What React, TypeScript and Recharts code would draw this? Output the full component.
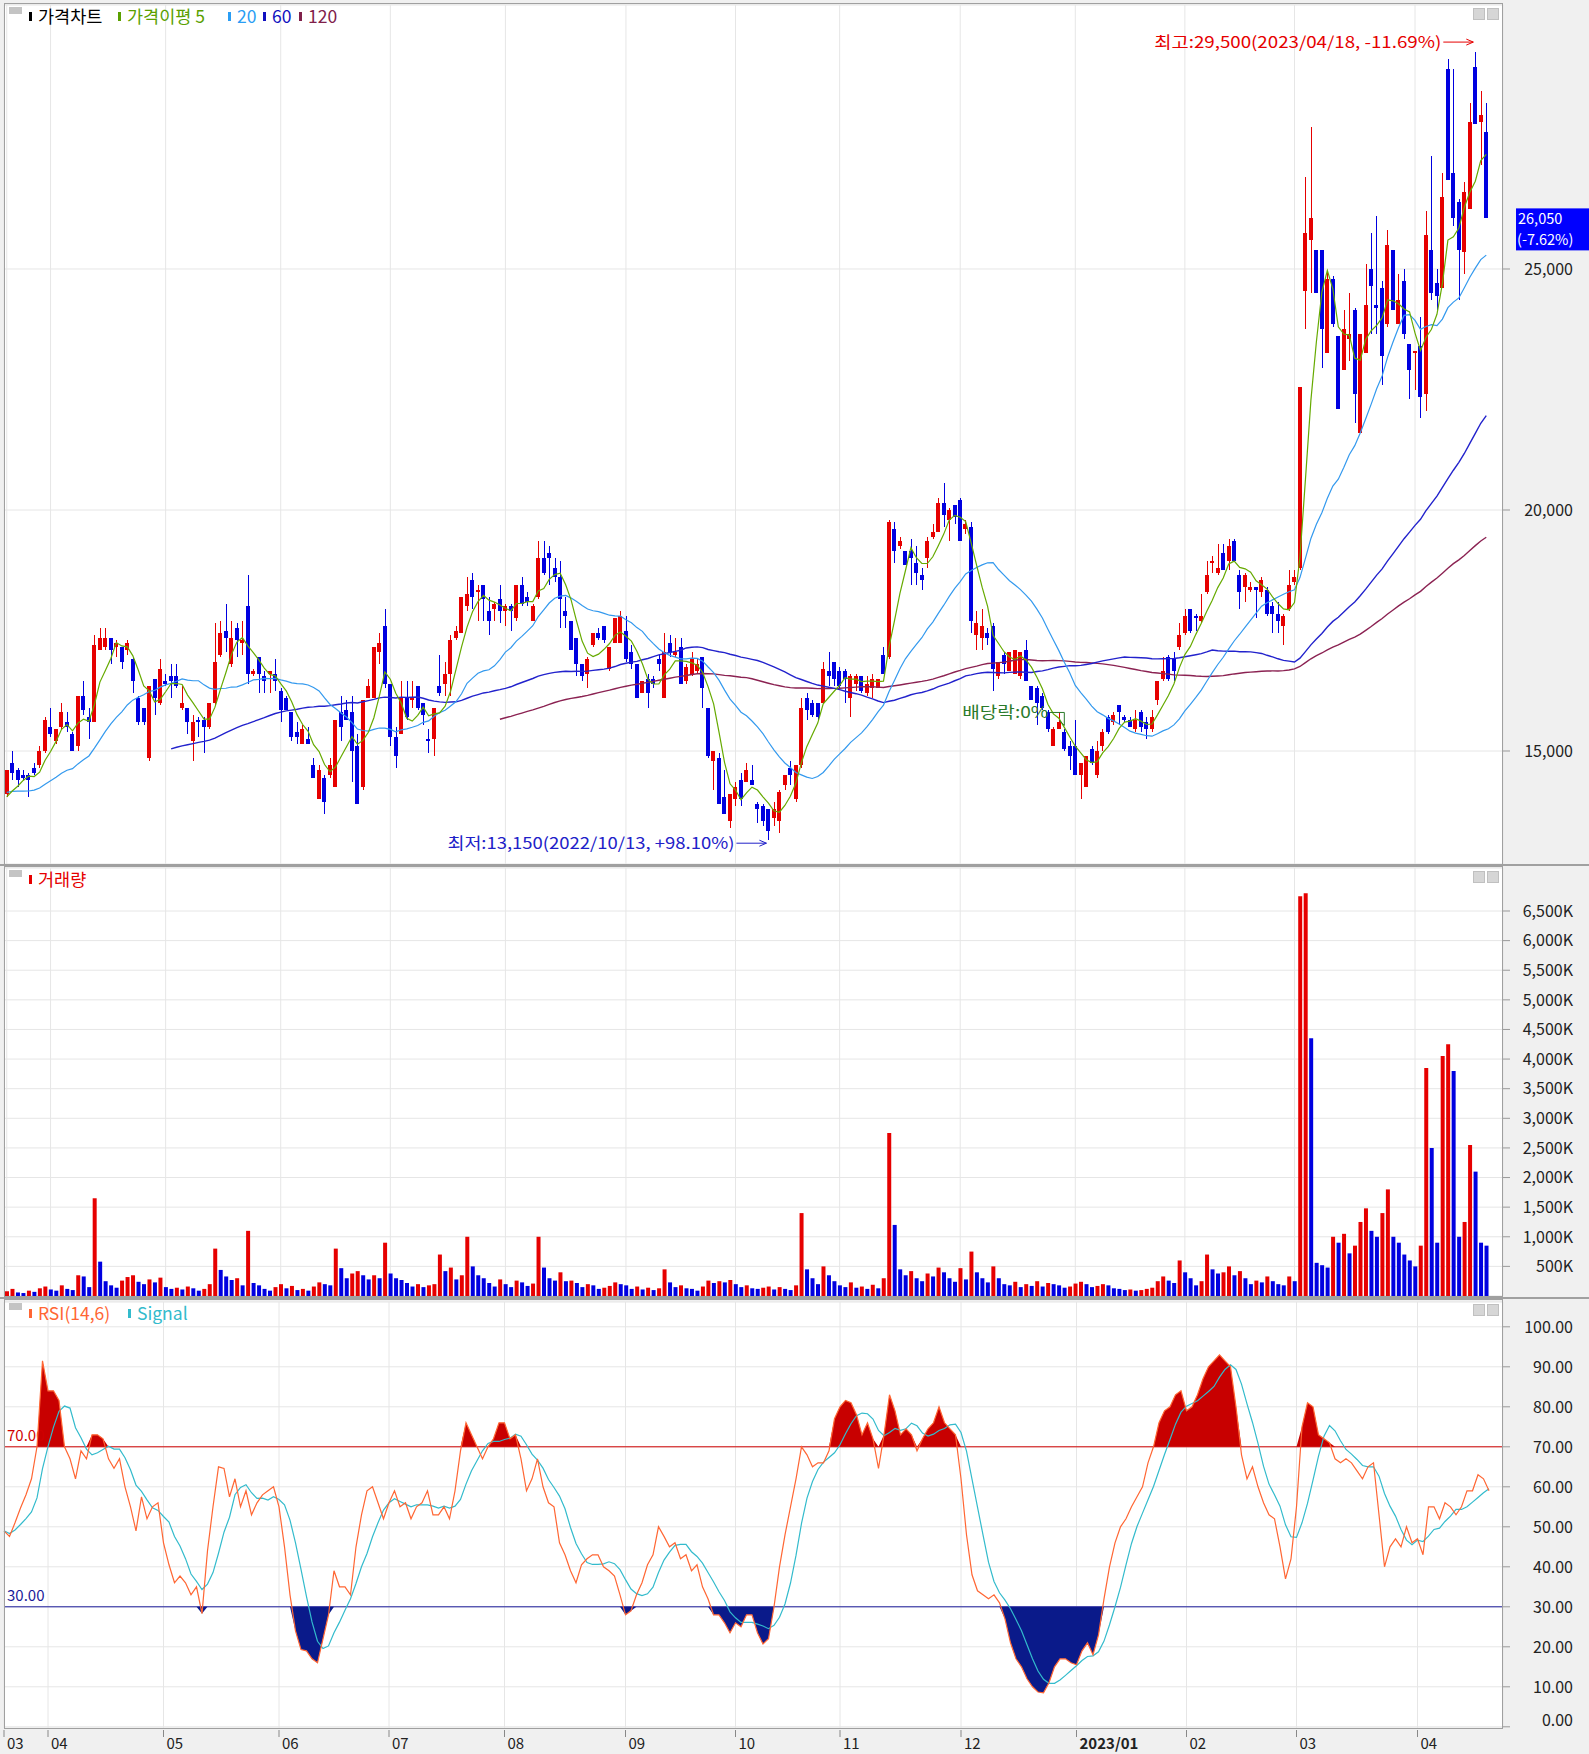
import React from "react";
import {
  ComposedChart, Bar, Line, Area, XAxis, YAxis, CartesianGrid,
  ReferenceLine, ReferenceDot, Cell,
} from "recharts";

const FONT = '"Noto Sans CJK KR", "Noto Sans", sans-serif';
const UP = "#e60000";
const DOWN = "#0000e0";
const GRID = "#e6e6e6";

// month start indices (trading days) and labels
const monthStarts = [0, 8, 29, 50, 70, 91, 113, 133, 152, 174, 195, 215, 235, 257];
const monthLabels = ["03", "04", "05", "06", "07", "08", "09", "10", "11", "12", "2023/01", "02", "03", "04"];

// closes before the visible window (needed for the moving averages)
const priorCloses = [
  14350, 14200, 14300, 14150, 14050, 14250, 14400, 14300, 14100, 14000,
  14150, 14300, 14450, 14350, 14200, 14100, 14050, 13950, 14000, 14150,
  14250, 14300, 14200, 14100, 14050, 13950, 13900, 13850, 13950,
];

const opens = [
  14100, 14750, 14600, 14500, 14500, 14650, 14700, 15000, 15500, 15200,
  15500, 15600, 15350, 15100, 16150, 15700, 15600, 17100, 17150, 17350,
  17150, 17150, 17100, 16900, 16100, 15900, 14850, 16500, 16000, 16450,
  16550, 16550, 15900, 15900, 15200, 15650, 15650, 15500, 16000, 17000,
  17500, 16800, 17550, 17250, 18000, 16600, 16950, 16550, 16600, 16600,
  16250, 16100, 15800, 15400, 15150, 15250, 14700, 14000, 14450, 14500,
  14250, 15800, 15850, 15800, 15100, 14250, 16100, 16100, 17050, 17600,
  16400, 15300, 15350, 16100, 16050, 16350, 16000, 15250, 15250, 16350,
  16400, 16600, 17350, 17450, 18000, 18550, 18300, 18450, 17900, 17950,
  18150, 17900, 18000, 17750, 18450, 18200, 17700, 18200, 19000, 19100,
  18800, 18600, 17900, 17700, 17350, 16800, 16600, 17200, 17450, 17600,
  16700, 17250, 17250, 17500, 17050, 16800, 16200, 16500, 16500, 16900,
  16100, 17250, 17000, 17150, 16450, 16600, 16650, 16950, 15900, 14800,
  14850, 14050, 13550, 14000, 14400, 14350, 14400, 13900, 13850, 13800,
  13600, 13550, 14300, 14650, 14000, 14700, 16100, 16000, 16000, 16000,
  16650, 16850, 16650, 16650, 16100, 16400, 16550, 16200, 16300, 16300,
  17000, 16950, 19600, 19250, 19150, 19150, 18900, 18650, 19000, 19450,
  19550, 20150, 19800, 20100, 20200, 19600, 19650, 17400, 17350, 17450,
  17600, 16550, 17000, 16650, 16600, 16550, 17100, 16350, 16300, 16150,
  15800, 15100, 15450, 15400, 15100, 15100, 14500, 14250, 15050, 14500,
  15100, 15700, 15600, 15950, 15700, 15650, 15450, 15800, 15600, 15450,
  16050, 16500, 16950, 16900, 17150, 17450, 17950, 17800, 17700, 18300,
  18900, 18700, 19100, 18950, 19350, 18650, 18400, 18350, 18400, 18300,
  18350, 18000, 17850, 17600, 17950, 18500, 18800, 24550, 25600, 25400,
  25400, 23250, 24800, 23600, 22900, 23550, 24150, 21600, 23250, 25000,
  24250, 24600, 23850, 25400, 23850, 24750, 23450, 23250, 23400, 22400,
  25400, 24700, 24600, 29150, 27000, 26400, 25350, 26250, 29200, 28050,
  27850,
];

const highs = [
  14600, 15000, 14650, 14600, 14550, 14750, 15100, 15700, 15900, 15450,
  16000, 15800, 15400, 16150, 16450, 15900, 17400, 17550, 17550, 17350,
  17300, 17150, 17300, 16950, 16150, 15900, 16350, 16500, 16900, 16600,
  16800, 16800, 16350, 15900, 15750, 15700, 15700, 16000, 17650, 17700,
  18050, 17700, 17650, 17700, 18650, 16700, 16950, 16650, 16650, 16900,
  16300, 16150, 15800, 15600, 15550, 15500, 14850, 14700, 14500, 14850,
  15650, 16150, 16050, 16150, 15350, 16050, 16500, 17150, 17450, 17950,
  16400, 15500, 16450, 16450, 16450, 16350, 16000, 15450, 15900, 17000,
  16850, 17400, 17600, 18200, 18600, 18700, 18450, 18450, 18200, 18100,
  18450, 18050, 18050, 18450, 18600, 18300, 18050, 19350, 19350, 19250,
  19000, 18950, 18200, 17700, 17350, 16800, 16950, 17450, 17550, 17600,
  17150, 17750, 17900, 17800, 17200, 16800, 16450, 16600, 16550, 17000,
  17450, 17400, 17350, 17350, 16800, 17050, 16900, 16950, 15900, 15000,
  14950, 14600, 14100, 14350, 14550, 14750, 14700, 13950, 13900, 13800,
  13950, 14200, 14500, 14800, 14700, 16100, 16200, 16050, 16000, 16850,
  17050, 16850, 16750, 16700, 16600, 16600, 16550, 16550, 16600, 16500,
  17150, 19800, 19750, 19450, 19150, 19400, 19250, 18800, 19450, 19700,
  20250, 20550, 20050, 20100, 20250, 19800, 19750, 17900, 17950, 17550,
  17650, 16850, 17050, 17050, 17100, 17050, 17300, 16350, 16350, 16200,
  15850, 15500, 15800, 15450, 15200, 15650, 14750, 14900, 15100, 15200,
  15450, 15750, 15800, 15950, 15750, 15700, 15850, 15850, 15700, 15850,
  16450, 16950, 17000, 17050, 17650, 17950, 17950, 17850, 18250, 18950,
  19050, 19300, 19300, 19400, 19400, 18750, 18700, 18500, 18400, 18600,
  18400, 18100, 18100, 17850, 18750, 18750, 22550, 26900, 27950, 25400,
  25400, 24950, 24850, 23600, 24150, 24500, 24200, 23650, 25100, 25750,
  26100, 24750, 25800, 25400, 24900, 25000, 23450, 23300, 24000, 26200,
  27350, 25000, 27000, 29350, 29150, 26450, 26800, 28450, 29500, 28700,
  28450,
];

const lows = [
  14050, 14400, 14250, 14400, 14050, 14500, 14650, 14950, 15300, 15150,
  15450, 15400, 15000, 15000, 15750, 15250, 15600, 17100, 17100, 16800,
  16950, 16700, 17000, 16200, 15550, 15550, 14800, 15750, 15950, 16350,
  16100, 16300, 15850, 15350, 14800, 15300, 14950, 15450, 15950, 16950,
  17050, 16750, 16950, 17000, 16400, 16550, 16200, 16200, 16200, 16250,
  15600, 15850, 15200, 15150, 15150, 15150, 14450, 14000, 13700, 14450,
  14250, 15200, 15650, 14350, 13900, 14200, 16100, 16100, 16800, 16300,
  15100, 14650, 15350, 15650, 15900, 15850, 15550, 14950, 14900, 16150,
  16150, 16150, 17300, 17450, 17900, 17950, 17700, 17700, 17400, 17700,
  17650, 17600, 17500, 17700, 18000, 18000, 17700, 18150, 18650, 18450,
  18500, 17550, 17550, 17100, 16550, 16450, 16300, 17150, 17300, 17250,
  16650, 17250, 17250, 16850, 16700, 16100, 16200, 15900, 16300, 16650,
  16100, 16950, 16950, 16400, 16400, 16550, 16600, 15900, 14850, 14200,
  13900, 13700, 13400, 13850, 13850, 14350, 14300, 13500, 13450, 13150,
  13450, 13300, 14200, 14300, 13950, 14650, 15650, 15700, 15650, 16000,
  16350, 16350, 16300, 16000, 15700, 16250, 16200, 16150, 16100, 16300,
  16600, 16900, 18900, 19200, 18850, 18450, 18450, 18350, 18800, 19400,
  19550, 19650, 19350, 19700, 19350, 19500, 17450, 17100, 17100, 17200,
  16250, 16500, 16600, 16650, 16600, 16500, 16450, 16050, 15550, 15850,
  15400, 15100, 15450, 15000, 14600, 14500, 14000, 14250, 14700, 14450,
  15000, 15350, 15550, 15550, 15600, 15500, 15400, 15400, 15250, 15400,
  15950, 16450, 16450, 16450, 17100, 17400, 17450, 17500, 17650, 18250,
  18700, 18650, 18750, 18750, 18950, 17950, 18100, 18300, 17750, 18200,
  17800, 17450, 17450, 17200, 17900, 18450, 18750, 23750, 24500, 24500,
  22950, 23250, 23800, 22100, 22900, 23100, 21800, 21600, 23250, 23650,
  23650, 22600, 23800, 24150, 23850, 23550, 22300, 22500, 21900, 22050,
  24350, 24150, 24600, 26850, 25900, 24350, 24900, 26250, 28000, 27150,
  26050,
];

const closes = [
  14600, 14550, 14400, 14450, 14400, 14550, 15000, 15650, 15350, 15450,
  15800, 15500, 15000, 16150, 15850, 15600, 17200, 17350, 17350, 17100,
  17250, 16850, 17250, 16450, 15600, 15600, 16350, 16100, 16700, 16400,
  16450, 16350, 16000, 15600, 15600, 15600, 15500, 16000, 16850, 17450,
  17350, 17350, 17300, 17300, 16600, 16650, 16600, 16450, 16650, 16450,
  15850, 15850, 15300, 15300, 15450, 15150, 14450, 14600, 13950, 14700,
  15650, 15500, 15650, 15000, 13900, 16050, 16350, 17150, 17250, 16400,
  15300, 14900, 16100, 15700, 16100, 15900, 15750, 15200, 15900, 16200,
  16600, 17300, 17500, 18200, 18250, 18200, 18350, 18150, 17700, 18050,
  17900, 18000, 17900, 18450, 18050, 18100, 18000, 19000, 18700, 19000,
  18600, 18150, 17800, 17100, 16800, 16550, 16900, 17450, 17350, 17300,
  17150, 17750, 17800, 16900, 16800, 16100, 16450, 16200, 16400, 16800,
  17050, 17050, 17050, 16400, 16750, 16900, 16800, 16300, 14900, 15000,
  13900, 13700, 14100, 14250, 14000, 14600, 14300, 13800, 13550, 13350,
  13800, 14150, 14500, 14500, 14700, 15900, 15850, 15750, 15700, 16700,
  16550, 16500, 16350, 16500, 16550, 16550, 16250, 16400, 16500, 16500,
  16600, 19750, 19150, 19350, 18850, 19000, 18700, 18550, 19350, 19550,
  20150, 19900, 20000, 19850, 19350, 19700, 17700, 17650, 17600, 17350,
  16700, 16850, 16800, 17050, 17100, 17050, 16450, 16050, 16000, 15900,
  15450, 15450, 15600, 15050, 14900, 14500, 14750, 14900, 14750, 15000,
  15400, 15400, 15750, 15800, 15650, 15500, 15650, 15500, 15450, 15700,
  16450, 16650, 16500, 16650, 17400, 17800, 17500, 17750, 17800, 18650,
  18950, 18800, 18750, 19250, 18950, 18300, 18650, 18400, 18350, 18550,
  17850, 17850, 17700, 17800, 18450, 18600, 22550, 25750, 26050, 24500,
  23750, 24800, 23850, 22100, 23750, 23650, 22400, 23650, 24250, 24650,
  24200, 23200, 25500, 24150, 24350, 23650, 22900, 23300, 22350, 25700,
  24500, 24450, 26500, 26850, 26050, 25400, 26600, 28050, 28000, 28200,
  26050,
];

// volume in thousands of shares
const volumes = [
  80, 120, 60, 50, 90, 70, 130, 160, 110, 90,
  180, 120, 100, 350, 330, 150, 1650, 580, 250, 180,
  140, 260, 320, 350, 240, 200, 280, 230, 310, 150,
  120, 140, 110, 160, 130, 90, 120, 200, 800, 440,
  330, 270, 300, 180, 1100, 220, 180, 120, 90, 150,
  200, 130, 170, 100, 120, 90, 160, 230, 200, 180,
  800, 470, 300, 380, 420, 350, 280, 350, 300, 900,
  380, 300, 270, 220, 160, 200, 150, 180, 200, 700,
  420, 480, 280, 350, 1000, 500, 350, 300, 220, 160,
  280, 200, 150, 260, 230, 170, 210, 1000, 480, 300,
  260, 400, 250, 260, 220, 150, 200, 180, 120, 140,
  170, 230, 200, 180, 120, 160, 110, 140, 100, 130,
  450, 230, 150, 180, 130, 120, 90, 160, 260, 220,
  250, 230, 270, 200, 150, 180, 130, 120, 140, 160,
  110, 150, 120, 100, 180, 1400, 450, 300, 200, 500,
  350, 250, 180, 150, 230, 140, 160, 120, 190, 130,
  300, 2750, 1200, 450, 350, 420, 300, 250, 380, 330,
  480, 400, 300, 240, 470, 280, 750, 400, 300, 230,
  500, 300, 200, 180, 240, 150, 200, 170, 250, 160,
  220, 200, 180, 140, 160, 210, 240, 200, 150, 170,
  200, 180, 130, 120, 100, 110, 90, 100, 120, 140,
  250, 330, 260, 220, 600, 400, 300, 180, 250, 700,
  450, 380, 400, 500, 350, 420, 300, 200, 260, 230,
  330, 250, 200, 180, 330, 250, 6750, 6800, 4350, 560,
  520, 480, 1000, 900, 1050, 720, 850, 1250, 1480, 1100,
  1000, 1400, 1800, 1000, 900, 700, 600, 500, 850, 3850,
  2500, 900, 4050, 4250, 3800, 1000, 1250, 2550, 2100, 900,
  850,
];

// RSI(14)
const rsiValues = [
  49, 47.6, 51, 54.7, 58, 62, 70, 91.5, 84, 84,
  81.6, 70, 67, 62, 69, 67, 73, 73, 72, 67,
  64.6, 67, 60, 55, 49, 57.5, 52, 55, 56, 46,
  40.5, 36, 37.7, 36, 33, 35, 28.3, 44, 55, 65,
  64.6, 57.5, 62, 55, 59, 53, 56, 58, 59, 60,
  55, 45, 33, 24, 19.3, 19, 17, 16, 22, 28,
  39, 35, 35, 33, 45, 53, 59, 60, 56, 52,
  56, 59, 55, 56, 52, 55, 56, 59, 53, 53,
  55, 52, 59, 69, 76, 73, 70, 67, 70, 72,
  76, 76, 72, 73, 67, 59, 62, 67, 60, 56,
  55, 46, 43, 39, 36, 40.5, 42, 43, 43, 40,
  39, 37.7, 33, 28, 29, 33, 36, 40.5, 43, 50,
  47.6, 45, 46, 42, 43, 39, 40.5, 35, 32, 28,
  28, 26, 23.5, 26, 25, 28, 28, 23.5, 20.7, 22,
  30, 40, 48, 55, 62, 70, 68, 65, 66, 66,
  69, 77, 80, 81.6, 81, 78, 73, 76, 72, 64.6,
  73, 83, 79, 73, 74.5, 73, 69, 72, 74.5, 76,
  80, 76, 74.5, 73, 62, 48, 38, 34, 33, 32,
  33, 31, 27, 21, 17, 15, 12, 10, 8.7, 8.5,
  11, 15, 17, 17, 16, 15.5, 19, 21, 18, 23,
  32, 40, 46, 50, 52, 55, 57.5, 60, 66, 70,
  76, 79, 80, 83, 84, 79, 80, 83, 87, 90,
  91.5, 93, 91.5, 90, 80, 68, 62, 65, 60, 56,
  53, 52, 45, 37, 42, 55, 75, 81, 80, 73,
  72, 71, 67, 66, 67, 66, 64, 62, 65, 66,
  53, 40, 45, 47, 45, 50, 46, 47, 43, 55,
  55, 52, 56, 55, 53, 55, 59, 59, 63, 62,
  59,
];

const allCloses = [...priorCloses, ...closes];
function movingAverage(n: number, i: number) {
  const j = i + priorCloses.length;
  if (j < n - 1) return null;
  let s = 0;
  for (let k = j - n + 1; k <= j; k++) s += allCloses[k];
  return s / n;
}
function signalAt(i: number) {
  const from = Math.max(0, i - 5);
  let s = 0;
  for (let k = from; k <= i; k++) s += rsiValues[k];
  return s / (i - from + 1);
}

const rows = closes.map((close, i) => ({
  i,
  open: opens[i],
  high: highs[i],
  low: lows[i],
  close,
  vol: volumes[i],
  volUp: i === 0 || volumes[i] >= volumes[i - 1],
  ma5: movingAverage(5, i),
  ma20: movingAverage(20, i),
  ma60: movingAverage(60, i),
  ma120: movingAverage(120, i),
  rsi: rsiValues[i],
  signal: signalAt(i),
}));

const last = rows.length - 1;
const lastClose = closes[last];
const prevClose = closes[last - 1];
const maxIdx = highs.indexOf(Math.max(...highs));
const minIdx = lows.indexOf(Math.min(...lows));
const pct = (v: number) => (v >= 0 ? "+" : "") + v.toFixed(2) + "%";
const fmt = (v: number) => v.toLocaleString("en-US");
const dateOf: Record<number, string> = { [maxIdx]: "2023/04/18", [minIdx]: "2022/10/13" };

const X_PAD = { left: 0, right: 14 };
const MARGIN_LEFT = 4;

function Candle(props: any) {
  const { x, y, width, height, payload } = props;
  const top = Math.min(y, y + height);
  const bottom = Math.max(y, y + height);
  const range = payload.high - payload.low;
  const k = range > 0 ? (bottom - top) / range : 0;
  const up = payload.close >= payload.open;
  const color = up ? UP : DOWN;
  const bTop = top + (payload.high - Math.max(payload.open, payload.close)) * k;
  const bBot = top + (payload.high - Math.min(payload.open, payload.close)) * k;
  const c = Math.round(x + width / 2);
  return (
    <g shapeRendering="crispEdges">
      <rect x={c - 0.5} y={top} width={1} height={Math.max(1, bottom - top)} fill={color} />
      <rect x={c - 2} y={bTop} width={4} height={Math.max(1, bBot - bTop)} fill={color} />
    </g>
  );
}

function AxisLabel({ x, y, payload, kind }: any) {
  const v = payload.value;
  let text = "";
  let dy = 0;
  if (kind === "price") text = fmt(v);
  if (kind === "vol") { text = fmt(v) + "K"; if (v === 0) dy = -8; }
  if (kind === "rsi") { text = v.toFixed(2); if (v === 0) dy = -7; }
  return (
    <text x={x + 61} y={y + dy} dy="0.36em" textAnchor="end" fontSize={16}
      fontFamily={FONT} fill="#222">{text}</text>
  );
}

function MonthTick({ x, y, payload }: any) {
  const k = monthStarts.indexOf(payload.value);
  if (k < 0) return <g />;
  const axisY = y - 8;
  const label = monthLabels[k];
  return (
    <g>
      <line x1={x} x2={x} y1={axisY + 2} y2={axisY + 9} stroke="#888" />
      <text x={x + 3} y={axisY + 21} fontSize={15} fontFamily={FONT}
        fontWeight={label.length > 2 ? 700 : 400} fill="#222">{label}</text>
    </g>
  );
}

function Annotation({ cx, cy, text, color, dy, length }: any) {
  const ty = cy + dy;
  const end = cx - 2;
  const start = cx - 32;
  return (
    <g>
      <text x={start - 2} y={ty} dy="0.36em" textAnchor="end" fill={color} fontSize={16}
        fontFamily={FONT} textLength={length} lengthAdjust="spacingAndGlyphs">{text}</text>
      <line x1={start} y1={ty} x2={end} y2={ty} stroke={color} />
      <polyline points={`${end - 7},${ty - 3} ${end},${ty} ${end - 7},${ty + 3}`} fill="none" stroke={color} />
    </g>
  );
}

function DividendMark({ cx, cy }: any) {
  const color = "#2a7a2a";
  return (
    <g>
      <text x={cx - 16} y={cy} dy="0.36em" textAnchor="end" fill={color} fontSize={16}
        fontFamily={FONT} textLength={86} lengthAdjust="spacingAndGlyphs">배당락:0%</text>
      <polyline points={`${cx - 15},${cy} ${cx},${cy} ${cx},${cy + 13}`} fill="none" stroke={color} />
      <polyline points={`${cx - 5},${cy + 8} ${cx},${cy + 13}`} fill="none" stroke={color} />
    </g>
  );
}

function LastPriceBox(props: any) {
  const vb = props.viewBox;
  const bx = vb.x + vb.width + 13;
  const by = vb.y - 10;
  return (
    <g>
      <rect x={bx} y={by} width={74} height={42} fill="#0000ff" />
      <text x={bx + 2} y={by + 10} dy="0.36em" fill="#fff" fontSize={14.5} fontFamily={FONT}>{fmt(lastClose)}</text>
      <text x={bx + 1} y={by + 31} dy="0.36em" fill="#fff" fontSize={14.5} fontFamily={FONT}>
        ({pct((lastClose / prevClose - 1) * 100)})
      </text>
    </g>
  );
}

function LevelLabel({ viewBox, text, color }: any) {
  return (
    <text x={viewBox.x + 3} y={viewBox.y - 11} dy="0.36em" fill={color} fontSize={15} fontFamily={FONT}>{text}</text>
  );
}

function PanelChrome({ top, height }: { top: number; height: number }) {
  return (
    <>
      <div style={{ position: "absolute", left: 4, top, width: 1499, height, border: "1px solid #a0a0a0", boxSizing: "border-box", pointerEvents: "none" }} />
      <div style={{ position: "absolute", left: 9, top: top + 4, width: 13, height: 7, background: "#c4c4c4" }} />
      <div style={{ position: "absolute", left: 1473, top: top + 5, width: 10, height: 10, background: "#d6d6d6", border: "1px solid #c0c0c0" }} />
      <div style={{ position: "absolute", left: 1487, top: top + 5, width: 10, height: 10, background: "#d6d6d6", border: "1px solid #c0c0c0" }} />
    </>
  );
}

// one legend entry: colour mark plus text, at a fixed spot of the panel header
function LegendItem({ left, top, color, text }: { left: number; top: number; color: string; text: string }) {
  return (
    <>
      <div style={{ position: "absolute", left, top: top + 7, width: 3, height: 9, background: color }} />
      <div style={{ position: "absolute", left: left + 9, top, fontSize: 17.5, lineHeight: "22px", fontFamily: FONT, color, whiteSpace: "pre" }}>{text}</div>
    </>
  );
}

export default function App() {
  return (
    <div style={{ position: "absolute", left: 0, top: 0, width: 1589, height: 1754, background: "#f0f0f0", overflow: "hidden" }}>
      {/* price panel */}
      <div style={{ position: "absolute", left: 0, top: 3 }}>
        <ComposedChart width={1589} height={861} data={rows} margin={{ top: 2, right: 0, bottom: 0, left: MARGIN_LEFT }}>
          <CartesianGrid stroke={GRID} fill="#fff" />
          <XAxis dataKey="i" type="category" hide padding={X_PAD} ticks={monthStarts} interval={0} />
          <YAxis orientation="right" width={86} domain={[12656, 30477]} ticks={[15000, 20000, 25000]}
            allowDataOverflow axisLine={false} tickSize={7} tickLine={{ stroke: "#999" }}
            tick={(p: any) => <AxisLabel {...p} kind="price" />} />
          <ReferenceDot x={193} y={15800} r={0} shape={(p: any) => <DividendMark cx={p.cx} cy={p.cy} />} />
          <Bar dataKey={(d: any) => [d.low, d.high]} shape={(p: any) => <Candle {...p} />} isAnimationActive={false} />
          <Line dataKey="ma120" stroke="#8b2252" strokeWidth={1.4} dot={false} isAnimationActive={false} />
          <Line dataKey="ma60" stroke="#2222cc" strokeWidth={1.4} dot={false} isAnimationActive={false} />
          <Line dataKey="ma20" stroke="#3399ee" strokeWidth={1.2} dot={false} isAnimationActive={false} />
          <Line dataKey="ma5" stroke="#66aa00" strokeWidth={1.2} dot={false} isAnimationActive={false} />
          <ReferenceDot x={maxIdx} y={highs[maxIdx]} r={0} shape={(p: any) => (
            <Annotation cx={p.cx} cy={p.cy} dy={-10} color="#e60000" length={287}
              text={`최고:${fmt(highs[maxIdx])}(${dateOf[maxIdx]}, ${pct((lastClose / highs[maxIdx] - 1) * 100).replace("+", "")})`} />
          )} />
          <ReferenceDot x={minIdx} y={lows[minIdx]} r={0} shape={(p: any) => (
            <Annotation cx={p.cx} cy={p.cy} dy={3} color="#2020c8" length={287}
              text={`최저:${fmt(lows[minIdx])}(${dateOf[minIdx]}, ${pct((lastClose / lows[minIdx] - 1) * 100)})`} />
          )} />
          <ReferenceLine y={lastClose} stroke="none" label={(p: any) => <LastPriceBox {...p} />} />
        </ComposedChart>
      </div>

      {/* volume panel */}
      <div style={{ position: "absolute", left: 0, top: 866 }}>
        <ComposedChart width={1589} height={430} data={rows} margin={{ top: 2, right: 0, bottom: 0, left: MARGIN_LEFT }}>
          <CartesianGrid stroke={GRID} fill="#fff" />
          <XAxis dataKey="i" type="category" hide padding={X_PAD} ticks={monthStarts} interval={0} />
          <YAxis orientation="right" width={86} domain={[0, 7226]}
            ticks={[0, 500, 1000, 1500, 2000, 2500, 3000, 3500, 4000, 4500, 5000, 5500, 6000, 6500]}
            allowDataOverflow axisLine={false} tickSize={7} tickLine={{ stroke: "#999" }}
            tick={(p: any) => <AxisLabel {...p} kind="vol" />} />
          <Bar dataKey="vol" barSize={4} isAnimationActive={false}>
            {rows.map((r) => <Cell key={r.i} fill={r.volUp ? UP : DOWN} />)}
          </Bar>
        </ComposedChart>
      </div>

      {/* RSI panel */}
      <div style={{ position: "absolute", left: 0, top: 1299 }}>
        <ComposedChart width={1589} height={455} data={rows} margin={{ top: 3, right: 0, bottom: 0, left: MARGIN_LEFT }}>
          <CartesianGrid stroke={GRID} fill="#fff" />
          <XAxis dataKey="i" type="category" height={26} padding={X_PAD} ticks={monthStarts} interval={0}
            axisLine={false} tickLine={false} tick={(p: any) => <MonthTick {...p} />} />
          <YAxis orientation="right" width={86} domain={[-0.3, 106.2]}
            ticks={[0, 10, 20, 30, 40, 50, 60, 70, 80, 90, 100]}
            allowDataOverflow axisLine={false} tickSize={7} tickLine={{ stroke: "#999" }}
            tick={(p: any) => <AxisLabel {...p} kind="rsi" />} />
          <ReferenceLine y={70} stroke="#d00000" label={(p: any) => <LevelLabel {...p} text="70.00" color="#d00000" />} />
          <ReferenceLine y={30} stroke="#1a1a9a" label={(p: any) => <LevelLabel {...p} text="30.00" color="#1a1a9a" />} />
          <Area dataKey={(d: any) => [70, Math.max(70, d.rsi)]} type="linear" stroke="none" fill="#c80000" fillOpacity={1} isAnimationActive={false} />
          <Area dataKey={(d: any) => [Math.min(30, d.rsi), 30]} type="linear" stroke="none" fill="#0a1a8a" fillOpacity={1} isAnimationActive={false} />
          <Line dataKey="signal" stroke="#33bbcc" strokeWidth={1.2} dot={false} isAnimationActive={false} />
          <Line dataKey="rsi" stroke="#ff6633" strokeWidth={1.2} dot={false} isAnimationActive={false} />
        </ComposedChart>
      </div>

      <PanelChrome top={3} height={862} />
      <PanelChrome top={866} height={431} />
      <PanelChrome top={1299} height={430} />
      <div style={{ position: "absolute", left: 0, top: 864, width: 1589, height: 2, background: "#a0a0a0" }} />
      <div style={{ position: "absolute", left: 0, top: 1297, width: 1589, height: 2, background: "#a0a0a0" }} />

      <LegendItem left={29} top={5} color="#000" text="가격차트" />
      <LegendItem left={118} top={5} color="#5aa000" text="가격이평 5" />
      <LegendItem left={228} top={5} color="#2a9df4" text="20" />
      <LegendItem left={263} top={5} color="#1010c0" text="60" />
      <LegendItem left={299} top={5} color="#80204a" text="120" />
      <LegendItem left={29} top={868} color="#e60000" text="거래량" />
      <LegendItem left={29} top={1302} color="#ff6633" text="RSI(14,6)" />
      <LegendItem left={128} top={1302} color="#33bbcc" text="Signal" />
    </div>
  );
}
